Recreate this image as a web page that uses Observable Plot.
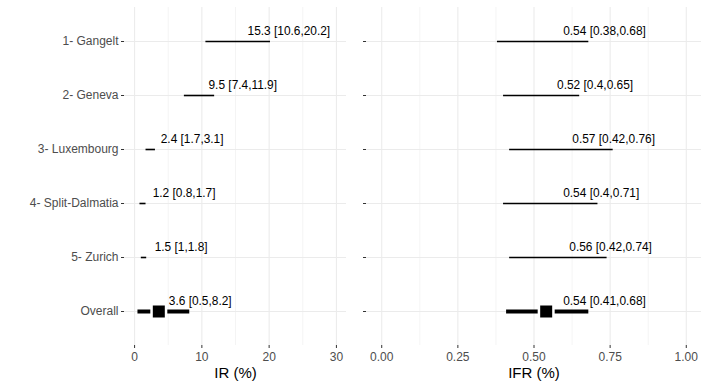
<!DOCTYPE html>
<html>
<head>
<meta charset="utf-8">
<script src="https://cdn.jsdelivr.net/npm/d3@7"></script>
<script src="https://cdn.jsdelivr.net/npm/@observablehq/plot@0.6"></script>
<style>
  html, body { margin: 0; padding: 0; background: #fff; }
  #chart { position: relative; width: 708px; height: 389px; overflow: hidden; background: #fff; }
  #chart > svg { position: absolute; top: 0; }
</style>
</head>
<body>
<div id="chart"></div>
<script>
// ---- data ----
const sites = ["1- Gangelt", "2- Geneva", "3- Luxembourg", "4- Split-Dalmatia", "5- Zurich", "Overall"];
const irEst = [15.3, 9.5, 2.4, 1.2, 1.5, 3.6];
const irLo  = [10.6, 7.4, 1.7, 0.8, 1.0, 0.5];
const irHi  = [20.2, 11.9, 3.1, 1.7, 1.8, 8.2];
const ifrEst = [0.54, 0.52, 0.57, 0.54, 0.56, 0.54];
const ifrLo  = [0.38, 0.40, 0.42, 0.40, 0.42, 0.41];
const ifrHi  = [0.68, 0.65, 0.76, 0.71, 0.74, 0.68];
const irTicks = [0, 10, 20, 30];
const irMinorTicks = [5, 15, 25];
const ifrTicks = [0, 0.25, 0.5, 0.75, 1];
const ifrMinorTicks = [0.125, 0.375, 0.625, 0.875];
const pooled = "Overall";

function rowsOf(est, lo, hi) {
  return sites.map((s, i) => ({site: s, est: est[i], lo: lo[i], hi: hi[i],
    label: `${est[i]} [${lo[i]},${hi[i]}]`}));
}

const font = "'Liberation Sans', Arial, Helvetica, sans-serif";
const grid = "#ebebeb";

function panel({rows, domain, ticks, minor, fmt, title, width, marginLeft, marginRight, showLabels, labelDx}) {
  const study = rows.filter(d => d.site !== pooled);
  const overall = rows.filter(d => d.site === pooled);
  return Plot.plot({
    width, height: 389,
    marginLeft, marginRight, marginTop: 7, marginBottom: 44,
    style: {fontFamily: font, fontSize: "12px", background: "transparent", overflow: "visible"},
    x: {domain},
    y: {type: "point", domain: sites, padding: 0.6},
    marks: [
      Plot.ruleX(minor, {stroke: grid, strokeWidth: 0.55}),
      Plot.ruleX(ticks, {stroke: grid, strokeWidth: 1.07}),
      Plot.ruleY(sites, {y: d => d, stroke: grid, strokeWidth: 1.07}),
      Plot.axisX({ticks, tickFormat: fmt, tickSize: 3, tickPadding: 4, label: null,
        stroke: "#333", fill: "#4d4d4d", fontSize: 12}),
      Plot.axisY({tickSize: 3, tickPadding: 3, label: null,
        tickFormat: showLabels ? (d => d) : (() => ""),
        stroke: "#333", fill: "#4d4d4d", fontSize: 12}),
      Plot.ruleY(study, {y: "site", x1: "lo", x2: "hi", stroke: "black", strokeWidth: 1.6}),
      Plot.ruleY(overall, {y: "site", x1: "lo", x2: "hi", stroke: "black", strokeWidth: 4}),
      Plot.dot(overall, {x: "est", y: "site", symbol: "square", r: 6.77,
        fill: "black", stroke: "white", strokeWidth: 5, paintOrder: "stroke"}),
      Plot.text(rows, {x: "est", y: "site", text: "label", textAnchor: "start",
        dx: labelDx, dy: -10, fill: "black", fontSize: 11.9}),
      Plot.text([title], {text: d => d, frameAnchor: "bottom", lineAnchor: "middle",
        dy: 28, fontSize: 15, fill: "black"})
    ]
  });
}

const left = panel({
  rows: rowsOf(irEst, irLo, irHi), domain: [-1.5, 31.5], ticks: irTicks, minor: irMinorTicks,
  fmt: d3.format("d"), title: "IR (%)", width: 356, marginLeft: 124, marginRight: 10,
  showLabels: true, labelDx: 10
});
const right = panel({
  rows: rowsOf(ifrEst, ifrLo, ifrHi), domain: [-0.05, 1.05], ticks: ifrTicks, minor: ifrMinorTicks,
  fmt: d3.format(".2f"), title: "IFR (%)", width: 352, marginLeft: 10, marginRight: 7,
  showLabels: false, labelDx: 17
});
left.style.left = "0px";
right.style.left = "356px";
const chart = document.getElementById("chart");
chart.appendChild(left);
chart.appendChild(right);
</script>
</body>
</html>
